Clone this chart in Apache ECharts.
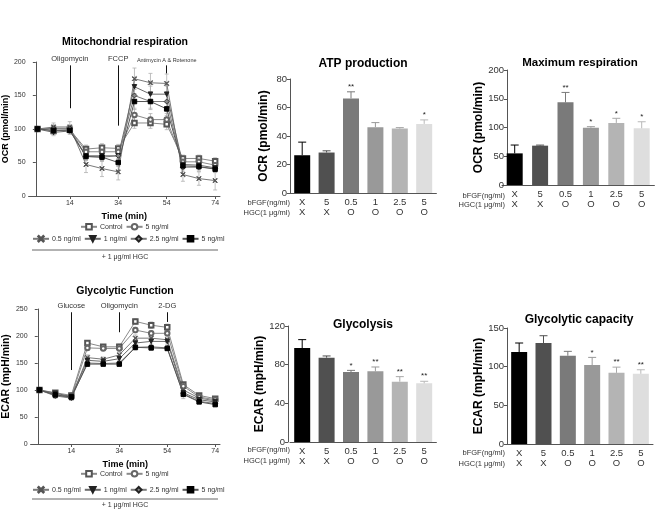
<!DOCTYPE html>
<html><head><meta charset="utf-8">
<script src="https://cdn.jsdelivr.net/npm/echarts@6/dist/echarts.min.js"></script>
<style>html,body{margin:0;padding:0;background:#fff}#c{width:658px;height:514px}</style>
</head><body><div id="c"></div>
<script>
// ---------- data ----------
const times = [0.7, 7.3, 14, 20.7, 27.3, 34, 40.7, 47.3, 54, 60.7, 67.3, 74];
const lineNames = ['Control', '5 ng/ml', '0.5 ng/ml', '1 ng/ml', '2.5 ng/ml', '5 ng/ml + HGC'];

const ocrControl = [100, 97, 99, 70, 72, 71, 109, 109, 107, 56, 56, 52];
const ocr5       = [100, 100, 100, 66, 66, 66, 121, 114, 114, 51, 51, 46];
const ocr05H     = [100, 103, 103, 47, 41, 36, 175, 169, 168, 32, 26, 23];
const ocr1H      = [100, 95, 97, 60, 60, 60, 163, 152, 152, 47, 46, 42];
const ocr25H     = [100, 101, 101, 59, 58, 60, 150, 141, 141, 43, 43, 41];
const ocr5H      = [100, 98, 98, 59, 58, 50, 141, 141, 130, 45, 44, 40];
const ocrControlErr = [2, 5, 5, 6, 6, 6, 8, 8, 8, 5, 5, 5];
const ocr5Err       = [2, 4, 4, 5, 6, 5, 10, 9, 9, 4, 4, 4];
const ocr05HErr     = [2, 6, 8, 12, 12, 12, 16, 14, 14, 10, 10, 14];
const ocr1HErr      = [2, 5, 5, 6, 7, 7, 14, 12, 12, 6, 6, 6];
const ocr25HErr     = [2, 5, 5, 6, 6, 6, 12, 12, 12, 6, 6, 6];
const ocr5HErr      = [2, 4, 4, 5, 6, 6, 12, 10, 10, 5, 5, 5];

const ecarControl = [100, 95, 90, 187, 180, 180, 227, 220, 216, 110, 90, 84];
const ecar5       = [100, 92, 88, 178, 177, 177, 211, 205, 205, 107, 87, 82];
const ecar05H     = [100, 90, 86, 160, 157, 165, 196, 196, 193, 100, 85, 80];
const ecar1H      = [100, 94, 88, 155, 153, 158, 187, 190, 190, 95, 82, 78];
const ecar25H     = [100, 89, 85, 150, 149, 150, 179, 180, 178, 93, 79, 75];
const ecar5H      = [100, 91, 87, 148, 148, 148, 179, 178, 177, 92, 78, 73];
const ecarControlErr = [2, 4, 5, 4, 4, 5, 5, 6, 6, 4, 3, 3];
const ecar5Err       = [2, 4, 4, 4, 4, 4, 5, 5, 5, 4, 3, 3];
const ecar05HErr     = [2, 5, 5, 5, 4, 5, 6, 5, 5, 5, 3, 3];
const ecar1HErr      = [2, 4, 4, 4, 4, 4, 6, 5, 5, 4, 3, 3];
const ecar25HErr     = [2, 4, 4, 4, 3, 4, 5, 4, 4, 4, 3, 3];
const ecar5HErr      = [2, 4, 4, 4, 3, 4, 5, 4, 4, 8, 3, 3];

const ocrInjNames = ['Oligomycin', 'FCCP', 'Antimycin A & Rotenone'];
const ocrInjTimes = [14, 34, 54];
const ocrInjFrom  = [195, 195, 195];
const ocrInjTo    = [131, 105, 183];
const ecarInjNames = ['Glucose', 'Oligomycin', '2-DG'];
const ecarInjTimes = [14, 34, 54];
const ecarInjFrom  = [244, 244, 244];
const ecarInjTo    = [137, 207, 226];

const bfgfLabels = ['X', '5', '0.5', '1', '2.5', '5'];
const hgcLabels  = ['X', 'X', 'O', 'O', 'O', 'O'];

const atpMean = [26.5, 28.4, 66.4, 46.2, 45.2, 48.5];
const atpErr  = [9.2, 1.2, 4.6, 3.2, 0.7, 2.8];
const atpStars = ['', '', '**', '', '', '*'];
const maxMean = [55, 68.4, 143.7, 99.7, 108, 98.6];
const maxErr  = [14.5, 1, 17.3, 1.7, 8, 11.4];
const maxStars = ['', '', '**', '*', '*', '*'];
const glyMean = [97.2, 87.2, 72.4, 73.1, 62.4, 60.7];
const glyErr  = [8.7, 1.8, 1.7, 4.5, 5.2, 2.1];
const glyStars = ['', '', '*', '**', '**', '**'];
const capMean = [118.9, 130.6, 114.1, 102, 92, 90.8];
const capErr  = [11.7, 9.4, 5.7, 10, 7.4, 5.2];
const capStars = ['', '', '', '*', '**', '**'];

// ---------- styles ----------
const FONT = 'Liberation Sans, Arial, sans-serif';
const TXT = '#333';
const AX = '#555';
const barColors = ['#000000', '#505050', '#7a7a7a', '#999999', '#b4b4b4', '#dedede'];
const barErrColors = ['#000000', '#505050', '#7a7a7a', '#999999', '#a8a8a8', '#b8b8b8'];
const lineStyles = [
  {symbol: 'emptyRect', color: '#555', line: '#8a8a8a', size: 4.5},
  {symbol: 'emptyCircle', color: '#666', line: '#8a8a8a', size: 4.5},
  {symbol: 'path://M0,1L1,0L5,4L9,0L10,1L6,5L10,9L9,10L5,6L1,10L0,9L4,5Z', color: '#555', line: '#7a7a7a', size: 4.5},
  {symbol: 'path://M0,0L10,0L5,9Z', color: '#222', line: '#6a6a6a', size: 4.5},
  {symbol: 'diamond', color: '#888', line: '#7a7a7a', size: 5, border: '#222'},
  {symbol: 'rect', color: '#000', line: '#555', size: 4.5}
];

const ocrSets = [ocrControl, ocr5, ocr05H, ocr1H, ocr25H, ocr5H];
const ocrErrs = [ocrControlErr, ocr5Err, ocr05HErr, ocr1HErr, ocr25HErr, ocr5HErr];
const ecarSets = [ecarControl, ecar5, ecar05H, ecar1H, ecar25H, ecar5H];
const ecarErrs = [ecarControlErr, ecar5Err, ecar05HErr, ecar1HErr, ecar25HErr, ecar5HErr];

function injMarkLine(names, ts, from, to) {
  return {
    silent: true, symbol: ['none', 'arrow'], symbolSize: [0, 5], animation: false,
    lineStyle: {color: '#111', width: 1, type: 'solid'},
    data: names.map((n, i) => [
      {coord: [ts[i], from[i]], label: {show: true, position: 'start', distance: 2, formatter: n,
        fontSize: n.length > 15 ? 5.5 : 7.5, color: TXT, fontFamily: FONT}},
      {coord: [ts[i], to[i]]}
    ])
  };
}

function lineSeries(sets, idx, marks) {
  return sets.map((d, k) => {
    const st = lineStyles[k];
    const s = {
      type: 'line', name: lineNames[k], xAxisIndex: idx, yAxisIndex: idx,
      data: times.map((t, i) => [t, d[i]]),
      symbol: st.symbol, symbolSize: st.size,
      itemStyle: {color: st.color, borderColor: st.border || st.color, borderWidth: st.border ? 0.8 : 1},
      lineStyle: {color: st.line, width: 1}, z: 3, animation: false
    };
    if (k === 0 && marks) s.markLine = marks;
    return s;
  });
}

function lineErrSeries(sets, errs, idx) {
  const data = [];
  sets.forEach((d, k) => d.forEach((v, i) => data.push([times[i], v, errs[k][i]])));
  return {
    type: 'custom', xAxisIndex: idx, yAxisIndex: idx, z: 1, silent: true, animation: false,
    encode: {x: 0, y: 1},
    renderItem: function (params, api) {
      const x = api.value(0), v = api.value(1), e = api.value(2);
      const a = api.coord([x, v + e]), b = api.coord([x, v - e]);
      const st = {stroke: '#b0b0b0', lineWidth: 0.8};
      return {type: 'group', children: [
        {type: 'line', shape: {x1: a[0], y1: a[1], x2: b[0], y2: b[1]}, style: st},
        {type: 'line', shape: {x1: a[0] - 2, y1: a[1], x2: a[0] + 2, y2: a[1]}, style: st},
        {type: 'line', shape: {x1: b[0] - 2, y1: b[1], x2: b[0] + 2, y2: b[1]}, style: st}
      ]};
    },
    data: data
  };
}

function barSeries(mean, idx) {
  return {
    type: 'bar', xAxisIndex: idx, yAxisIndex: idx, barWidth: 16, animation: false,
    data: mean.map((v, i) => ({value: v, itemStyle: {color: barColors[i]}}))
  };
}
function barErrSeries(mean, err, stars, idx) {
  return {
    type: 'custom', xAxisIndex: idx, yAxisIndex: idx, z: 5, silent: true, animation: false,
    encode: {x: 0, y: 1},
    renderItem: function (params, api) {
      const i = api.value(0), m = api.value(1), e = api.value(2);
      const p0 = api.coord([i, m]), p1 = api.coord([i, m + e]);
      const st = {stroke: barErrColors[params.dataIndex], lineWidth: 1};
      return {type: 'group', children: [
        {type: 'line', shape: {x1: p0[0], y1: p0[1], x2: p1[0], y2: p1[1]}, style: st},
        {type: 'line', shape: {x1: p1[0] - 4, y1: p1[1], x2: p1[0] + 4, y2: p1[1]}, style: st},
        {type: 'text', x: p1[0], y: p1[1] - 1,
          style: {text: stars[params.dataIndex], align: 'center', verticalAlign: 'bottom',
            textAlign: 'center', textVerticalAlign: 'bottom', font: '8px ' + FONT, fill: '#222'}}
      ]};
    },
    data: mean.map((v, i) => [i, v, err[i]])
  };
}

const tickCustom = [14, 34, 54, 74];
function lineX(idx) {
  return {
    gridIndex: idx, type: 'value', min: -3, max: 76,
    axisLine: {show: true, lineStyle: {color: AX, width: 1}},
    axisTick: {show: true, length: 3, customValues: tickCustom, lineStyle: {color: AX}},
    axisLabel: {customValues: tickCustom, fontSize: 7, color: TXT, margin: 4, fontFamily: FONT},
    splitLine: {show: false},
    name: 'Time (min)', nameLocation: 'middle', nameGap: 16,
    nameTextStyle: {fontSize: 9, fontWeight: 'bold', color: '#000', fontFamily: FONT}
  };
}
function lineY(idx, max, name, fs) {
  return {
    gridIndex: idx, type: 'value', min: 0, max: max, interval: 50,
    axisLine: {show: true, lineStyle: {color: AX, width: 1}},
    axisTick: {show: true, length: 3, lineStyle: {color: AX}},
    axisLabel: {fontSize: 7, color: TXT, margin: 3, fontFamily: FONT},
    splitLine: {show: false},
    name: name, nameLocation: 'middle', nameGap: 13,
    nameTextStyle: {fontSize: fs, fontWeight: 'bold', color: '#000', fontFamily: FONT}
  };
}
const categories = bfgfLabels.map((b, i) => b + '\n' + hgcLabels[i]);
function barX(idx) {
  return {
    gridIndex: idx, type: 'category', data: categories,
    axisLine: {show: true, lineStyle: {color: AX, width: 1}},
    axisTick: {show: false},
    axisLabel: {fontSize: 9.5, color: TXT, margin: 4, lineHeight: 10.5, interval: 0, fontFamily: FONT}
  };
}
function barY(idx, max, interval, name, offset) {
  return {
    gridIndex: idx, type: 'value', min: 0, max: max, interval: interval, offset: offset || 0,
    axisLine: {show: true, lineStyle: {color: AX, width: 1}},
    axisTick: {show: true, length: 3, lineStyle: {color: AX}},
    axisLabel: {fontSize: 9.5, color: TXT, margin: 3, fontFamily: FONT},
    splitLine: {show: false},
    name: name, nameLocation: 'middle', nameGap: 20,
    nameTextStyle: {fontSize: 12, fontWeight: 'bold', color: '#000', fontFamily: FONT}
  };
}

function txt(text, x, y, font, align, color) {
  return {type: 'text', x: x, y: y, silent: true,
    style: {text: text, font: font, fill: color || '#000', align: align || 'center', verticalAlign: 'middle',
      textAlign: align || 'center', textVerticalAlign: 'middle'}};
}
function hline(x1, x2, y) {
  return {type: 'line', silent: true, shape: {x1: x1, y1: y, x2: x2, y2: y}, style: {stroke: '#666', lineWidth: 1}};
}

const legFmt = n => n.replace(' + HGC', '');
function legend(names, left, top) {
  return {data: names, left: left, top: top, orient: 'horizontal', itemWidth: 16, itemHeight: 7, itemGap: 3,
    padding: 0, selectedMode: false, formatter: legFmt,
    textStyle: {fontSize: 7, color: TXT, fontFamily: FONT, padding: [0, 0, 0, -2]}};
}

const option = {
  animation: false,
  backgroundColor: '#fff',
  textStyle: {fontFamily: FONT},
  grid: [
    {left: 27, top: 62, width: 193, height: 134},
    {left: 27, top: 309, width: 193, height: 135},
    {left: 290, top: 79, width: 146.4, height: 114},
    {left: 502, top: 70, width: 152.4, height: 115},
    {left: 290, top: 326, width: 146.4, height: 116},
    {left: 507, top: 328, width: 146, height: 116}
  ],
  xAxis: [lineX(0), lineX(1), barX(2), barX(3), barX(4), barX(5)],
  yAxis: [
    lineY(0, 200, 'OCR (pmol/min)', 9),
    lineY(1, 250, 'ECAR (mpH/min)', 10.5),
    barY(2, 80, 20, 'OCR (pmol/min)'),
    barY(3, 200, 50, 'OCR (pmol/min)', -5),
    barY(4, 120, 40, 'ECAR (mpH/min)', 2),
    barY(5, 150, 50, 'ECAR (mpH/min)')
  ],
  legend: [
    legend(lineNames.slice(0, 2), 80, 223),
    legend(lineNames.slice(2), 32, 235),
    legend(lineNames.slice(0, 2), 80, 470),
    legend(lineNames.slice(2), 32, 486)
  ],
  series: [].concat(
    lineErrSeries(ocrSets, ocrErrs, 0),
    lineSeries(ocrSets, 0, injMarkLine(ocrInjNames, ocrInjTimes, ocrInjFrom, ocrInjTo)),
    lineErrSeries(ecarSets, ecarErrs, 1),
    lineSeries(ecarSets, 1, injMarkLine(ecarInjNames, ecarInjTimes, ecarInjFrom, ecarInjTo)),
    barSeries(atpMean, 2), barErrSeries(atpMean, atpErr, atpStars, 2),
    barSeries(maxMean, 3), barErrSeries(maxMean, maxErr, maxStars, 3),
    barSeries(glyMean, 4), barErrSeries(glyMean, glyErr, glyStars, 4),
    barSeries(capMean, 5), barErrSeries(capMean, capErr, capStars, 5)
  ),
  graphic: [
    txt('Mitochondrial respiration', 125, 42, 'bold 10.5px ' + FONT),
    txt('Glycolytic Function', 125, 291, 'bold 10.5px ' + FONT),
    txt('ATP production', 363, 64, 'bold 12px ' + FONT),
    txt('Maximum respiration', 580, 63, 'bold 11.5px ' + FONT),
    txt('Glycolysis', 363, 325, 'bold 12px ' + FONT),
    txt('Glycolytic capacity', 579, 320, 'bold 12px ' + FONT),
    hline(32, 218, 250), txt('+ 1 μg/ml HGC', 125, 257, '7px ' + FONT, 'center', TXT),
    hline(32, 218, 499), txt('+ 1 μg/ml HGC', 125, 505, '7px ' + FONT, 'center', TXT),
    txt('bFGF(ng/ml)', 290, 203, '7.5px ' + FONT, 'right', TXT),
    txt('HGC(1 μg/ml)', 290, 213, '7.5px ' + FONT, 'right', TXT),
    txt('bFGF(ng/ml)', 505, 196, '7.5px ' + FONT, 'right', TXT),
    txt('HGC(1 μg/ml)', 505, 205, '7.5px ' + FONT, 'right', TXT),
    txt('bFGF(ng/ml)', 290, 450, '7.5px ' + FONT, 'right', TXT),
    txt('HGC(1 μg/ml)', 290, 461, '7.5px ' + FONT, 'right', TXT),
    txt('bFGF(ng/ml)', 505, 453, '7.5px ' + FONT, 'right', TXT),
    txt('HGC(1 μg/ml)', 505, 464, '7.5px ' + FONT, 'right', TXT)
  ]
};

const chart = echarts.init(document.getElementById('c'), null, {renderer: 'canvas'});
chart.setOption(option);
</script>
</body></html>
